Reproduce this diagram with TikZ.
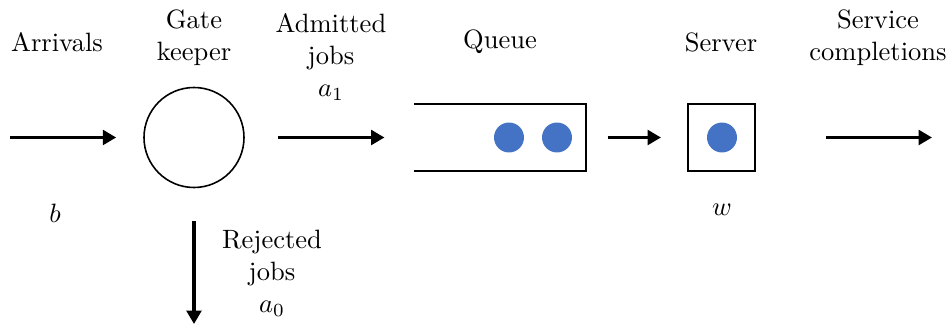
\documentclass[tikz,border=0pt]{standalone}
\usepackage{tikz}
\usetikzlibrary{calc,arrows.meta}
\definecolor{jobblue}{RGB}{68,114,196}

\begin{document}
\begin{tikzpicture}[x=0.377pt,y=-0.377pt,
  flow/.style={-{Triangle[length=5pt,width=5.5pt]}, line width=1.2pt},
  lbl/.style={align=center, inner sep=0pt},
  job/.style={circle, fill=jobblue, minimum size=11.3pt, inner sep=0pt}]
\useasboundingbox (0,0) rectangle (951,324);

\node[lbl] (arr) at (57,42) {Arrivals};
\node[lbl] (gtxt) at (194,38) {Gate\\keeper};
\node[lbl] (atxt) at (331,57) {Admitted\\jobs\\$a_1$};
\node[lbl] (qtxt) at (500,42) {Queue};
\node[lbl] (stxt) at (721,42) {Server};
\node[lbl] (ctxt) at (878,38) {Service\\completions};
\node[lbl] (b) at (55,213) {$b$};
\node[lbl] (w) at (722,210) {$w$};
\node[lbl] (rtxt) at (272,273) {Rejected\\jobs\\$a_0$};

\node[draw, circle, line width=0.6pt, minimum size=37.7pt, inner sep=0pt] (gate) at (194,137.5) {};
\node[minimum width=64.1pt, minimum height=24.9pt, inner sep=0pt] (queue) at (500,137.5) {};
\draw[line width=0.75pt] (queue.north west) -- (queue.north east) -- (queue.south east) -- (queue.south west);
\node[job] (q1) at (509,137.5) {};
\node[job] (q2) at (557,137.5) {};
\node[draw, line width=0.75pt, minimum width=25.3pt, minimum height=24.9pt, inner sep=0pt] (server) at (721.5,137.5) {};
\node[job] (s1) at (722,137.5) {};

\coordinate (in) at (10,137.5);
\coordinate (out) at (932,137.5);
\coordinate (rej) at (194,324);

\draw[flow] (in) -- ($(gate.west)+(-27,0)$);
\draw[flow] ($(gate.east)+(33,0)$) -- ($(queue.west)+(-30,0)$);
\draw[flow] ($(queue.east)+(22,0)$) -- ($(server.west)+(-26,0)$);
\draw[flow] ($(server.east)+(70,0)$) -- (out);
\draw[flow] ($(gate.south)+(0,33)$) -- (rej);
\end{tikzpicture}
\end{document}
